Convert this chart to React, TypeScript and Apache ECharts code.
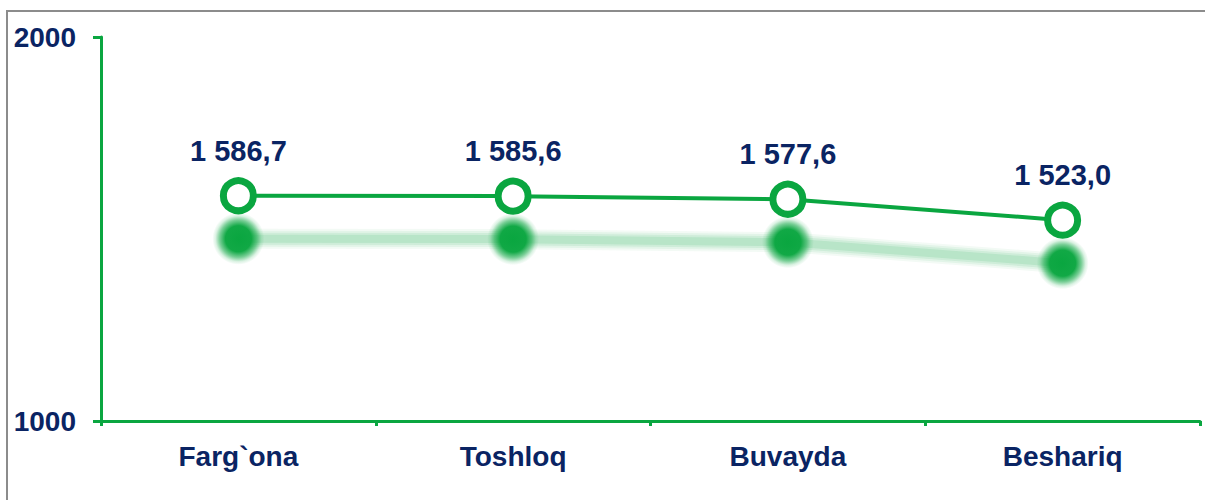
import React, { useEffect, useRef } from "react";
import * as echarts from "echarts";

const categories = ["Farg`ona", "Toshloq", "Buvayda", "Beshariq"];
const values = [1586.7, 1585.6, 1577.6, 1523.0];
const yTicks = [1000, 2000];

const GREEN = "#0AA640";
const NAVY = "#0A2463";
const FONT = "'Liberation Sans', Arial, sans-serif";
const SHADOW_SHIFT = 43;

const fmt = (v: number) => {
  const [i, d] = v.toFixed(1).split(".");
  const ip = i.replace(/\B(?=(\d{3})+(?!\d))/g, " ");
  return ip + "," + d;
};

export default function App() {
  const ref = useRef<HTMLDivElement>(null);
  useEffect(() => {
    if (!ref.current) return;
    const chart = echarts.init(ref.current, undefined, { renderer: "svg" });
    const grid0 = { left: 101, right: 5, top: 37, bottom: 79 };
    const grid1 = {
      left: 101,
      right: 5,
      top: 37 + SHADOW_SHIFT,
      bottom: 79 - SHADOW_SHIFT,
    };
    const hiddenX = {
      type: "category",
      gridIndex: 1,
      data: categories,
      boundaryGap: true,
      show: false,
    };
    const hiddenY = {
      type: "value",
      gridIndex: 1,
      min: yTicks[0],
      max: yTicks[1],
      interval: 1000,
      show: false,
      splitLine: { show: false },
    };
    const bandLayers = [
      { w: 20, a: 0.05 },
      { w: 16, a: 0.07 },
      { w: 12, a: 0.09 },
      { w: 8, a: 0.11 },
    ];
    const shadowLines = bandLayers.map((l) => ({
      type: "line",
      xAxisIndex: 1,
      yAxisIndex: 1,
      data: values,
      symbol: "none",
      silent: true,
      z: 1,
      lineStyle: { color: `rgba(10,166,64,${l.a})`, width: l.w },
    }));
    const shadowDots = {
      type: "line",
      xAxisIndex: 1,
      yAxisIndex: 1,
      data: values,
      symbol: "circle",
      symbolSize: 52,
      silent: true,
      z: 1,
      lineStyle: { width: 0, opacity: 0 },
      itemStyle: {
        color: {
          type: "radial",
          x: 0.5,
          y: 0.5,
          r: 0.5,
          colorStops: [
            { offset: 0, color: "rgba(10,166,64,1)" },
            { offset: 0.5, color: "rgba(10,166,64,0.97)" },
            { offset: 0.72, color: "rgba(10,166,64,0.55)" },
            { offset: 0.88, color: "rgba(10,166,64,0.15)" },
            { offset: 1, color: "rgba(10,166,64,0)" },
          ],
        },
      },
    };
    chart.setOption({
      animation: false,
      backgroundColor: "#ffffff",
      graphic: [
        {
          type: "rect",
          shape: { x: 7, y: 11, width: 1400, height: 700 },
          style: { fill: "none", stroke: "#8c8c8c", lineWidth: 2 },
          silent: true,
          z: 100,
        },
      ],
      grid: [grid0, grid1],
      xAxis: [
        {
          type: "category",
          data: categories,
          boundaryGap: true,
          axisLine: { lineStyle: { color: GREEN, width: 3 } },
          axisTick: { show: true, length: 5, lineStyle: { color: GREEN, width: 3 } },
          axisLabel: {
            color: NAVY,
            fontFamily: FONT,
            fontWeight: "bold",
            fontSize: 28,
            margin: 21,
          },
          splitLine: { show: false },
          z: 5,
        },
        hiddenX,
      ],
      yAxis: [
        {
          type: "value",
          min: yTicks[0],
          max: yTicks[1],
          interval: 1000,
          axisLine: { show: true, lineStyle: { color: GREEN, width: 3 } },
          axisTick: { show: true, length: 8, lineStyle: { color: GREEN, width: 3 } },
          axisLabel: {
            color: NAVY,
            fontFamily: FONT,
            fontWeight: "bold",
            fontSize: 28,
            margin: 25,
            formatter: (v: number) => String(v),
          },
          splitLine: { show: false },
          z: 5,
        },
        hiddenY,
      ],
      series: [
        ...shadowLines,
        shadowDots,
        {
          type: "line",
          data: values,
          symbol: "circle",
          symbolSize: 30,
          z: 3,
          lineStyle: { color: GREEN, width: 4 },
          itemStyle: {
            color: "#ffffff",
            borderColor: GREEN,
            borderWidth: 7,
          },
          label: {
            show: true,
            position: "top",
            distance: 12,
            color: NAVY,
            fontFamily: FONT,
            fontWeight: "bold",
            fontSize: 29,
            formatter: (p: any) => fmt(p.value),
          },
        },
      ],
    });
    return () => chart.dispose();
  }, []);
  return (
    <div
      ref={ref}
      style={{ position: "fixed", left: 0, top: 0, width: 1205, height: 500 }}
    />
  );
}
